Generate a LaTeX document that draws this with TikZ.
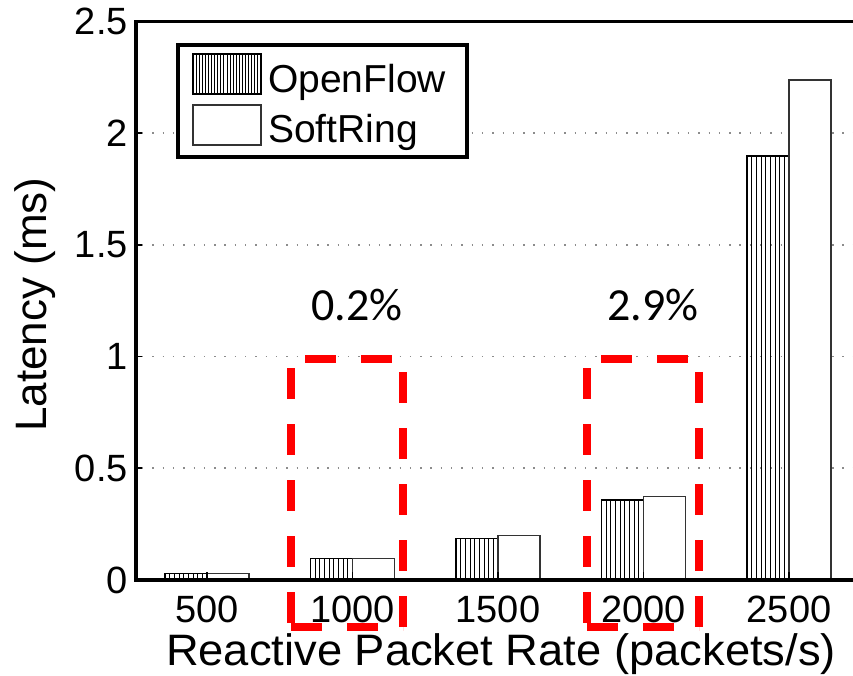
\documentclass[tikz,border=0pt]{standalone}
\usepackage{fontspec}
\setmainfont{Liberation Sans}
\newfontfamily\notefont{Carlito}
\begin{document}
\begin{tikzpicture}[x=1pt,y=-1pt,
  axisline/.style={line width=3.6pt, line join=miter},
  gridline/.style={black!45, line width=1.6pt, dash pattern=on 1.4pt off 8.9pt},
  barbox/.style={draw=black, line width=1.2pt},
  srbox/.style={draw=black!80, line width=1.2pt, fill=white},
  hatch/.style={black, line width=0.9pt},
  ticklabel/.style={font=\fontsize{38}{40}\selectfont, inner sep=0pt},
  axislabel/.style={font=\fontsize{44}{46}\selectfont, inner sep=0pt},
  legendlabel/.style={font=\fontsize{39}{41}\selectfont, inner sep=0pt, anchor=base west},
  notelabel/.style={font=\notefont\fontsize{46}{48}\selectfont, inner sep=0pt},
  markbox/.style={draw=red, line width=7.5pt, dash pattern=on 31pt off 25pt}
]
\useasboundingbox (0,0) rectangle (853,675);

% horizontal grid
\foreach \v in {0.5,1,1.5,2}
  \draw[gridline] (142,{580-223.5*\v}) -- (853,{580-223.5*\v});

% bars: centre / OpenFlow / SoftRing
\foreach \c/\a/\b [count=\i] in {207/0.029/0.029, 352.5/0.097/0.097, 498/0.187/0.198, 643.5/0.358/0.373, 789/1.897/2.237}{
  \foreach \k in {1,...,8}
    \draw[hatch] ({\c-42+\k*42/9},580) -- ({\c-42+\k*42/9},{580-223.5*\a});
  \draw[barbox] ({\c-42},580) rectangle (\c,{580-223.5*\a});
  \draw[srbox] (\c,580) rectangle ({\c+42},{580-223.5*\b});
  \draw[line width=1.2pt] (\c,580) -- (\c,572);
  \node[ticklabel, anchor=base] (xt\i) at (\c,622) {\the\numexpr500*\i\relax};
}

% axes
\draw[axisline] (853,21.5) -- (136,21.5) -- (136,580) -- (853,580);
\foreach \v/\t [count=\i] in {0/0, 0.5/0.5, 1/1, 1.5/1.5, 2/2, 2.5/2.5}{
  \draw[line width=1.6pt] (136,{580-223.5*\v}) -- (142,{580-223.5*\v});
  \node[ticklabel, anchor=east] (yt\i) at (128,{580-223.5*\v}) {\t};
}

% axis titles
\node[axislabel, rotate=90] (ylab) at (35,304.5) {Latency (ms)};
\node[axislabel, anchor=base, xscale=1.03] (xlab) at (501,665) {Reactive Packet Rate (packets/s)};

% legend
\draw[line width=3.6pt, fill=white] (178,45) rectangle (467,157);
\foreach \k in {1,...,21}
  \draw[hatch] ({193+\k*68/22},54) -- ({193+\k*68/22},94);
\draw[barbox] (193,54) rectangle (261,94);
\draw[srbox] (193,105) rectangle (261,145);
\node[legendlabel] (lgof) at (268,92) {OpenFlow};
\node[legendlabel] (lgsr) at (268,142) {SoftRing};

% highlighted groups
\foreach \L in {291,587}{
  \draw[markbox, dash phase=42] (\L,359) -- ({\L+112},359);
  \draw[markbox, dash phase=47] (\L,359) -- (\L,627);
  \draw[markbox, dash phase=43] ({\L+112},359) -- ({\L+112},627);
  \draw[markbox, dash phase=0] (\L,627) -- ({\L+112},627);
}
\node[notelabel] (pa) at (357,305) {0.2\%};
\node[notelabel] (pb) at (653,305) {2.9\%};
\end{tikzpicture}
\end{document}
